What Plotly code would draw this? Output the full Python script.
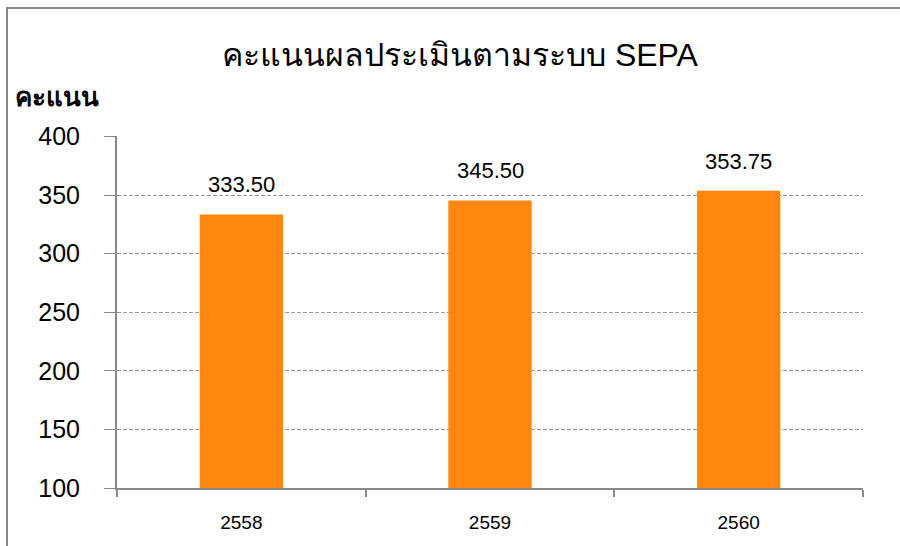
import plotly.graph_objects as go

categories = ["2558", "2559", "2560"]
scores = [333.50, 345.50, 353.75]
y_ticks = [100, 150, 200, 250, 300, 350, 400]

W, H = 900, 546
L, R, T, B = 117, 37, 136, 58
pw, ph = W - L - R, H - T - B

def px_x(p):
    return (p - L) / pw

def px_y(p):
    return (H - B - p) / ph

xpos = list(range(len(categories)))
FONT = "Liberation Sans, Arial"

fig = go.Figure()
fig.add_trace(go.Bar(
    x=xpos, y=scores, width=0.335,
    marker=dict(color="#FF870F", line=dict(width=0)),
    hoverinfo="skip",
))

for xi, v in zip(xpos, scores):
    fig.add_annotation(x=xi, y=v, text=f"{v:.2f}", showarrow=False,
                       yanchor="bottom", yshift=15,
                       font=dict(family=FONT, size=22, color="#000"))

fig.add_annotation(xref="paper", yref="paper", x=px_x(460), y=px_y(55),
                   text="คะแนนผลประเมินตามระบบ SEPA", showarrow=False,
                   xanchor="center", yanchor="middle",
                   font=dict(family=FONT, size=32, color="#000"))
fig.add_annotation(xref="paper", yref="paper", x=px_x(13), y=px_y(97),
                   text="<b>คะแนน</b>", showarrow=False,
                   xanchor="left", yanchor="middle",
                   font=dict(family=FONT, size=26, color="#000"))

# outer frame: top and left edges only (as in the reference crop)
fig.add_shape(type="line", xref="paper", yref="paper",
              x0=px_x(6), x1=px_x(905), y0=px_y(8), y1=px_y(8),
              line=dict(color="#888888", width=2), layer="below")
fig.add_shape(type="line", xref="paper", yref="paper",
              x0=px_x(7), x1=px_x(7), y0=px_y(8), y1=px_y(560),
              line=dict(color="#888888", width=2), layer="below")

fig.update_layout(
    width=W, height=H,
    margin=dict(l=L, r=R, t=T, b=B),
    paper_bgcolor="white", plot_bgcolor="white",
    showlegend=False,
    xaxis=dict(range=[-0.5, len(categories) - 0.5],
               tickvals=xpos, ticktext=categories, ticks="",
               ticklabelstandoff=16,
               showline=True, linecolor="#888888", linewidth=2,
               showgrid=False, zeroline=False,
               minor=dict(tick0=-0.5, dtick=1, ticks="outside", ticklen=7,
                          tickcolor="#888888", tickwidth=2, showgrid=False),
               tickfont=dict(family=FONT, size=19, color="#000")),
    yaxis=dict(range=[100, 400.5], tickvals=y_ticks, ticks="outside",
               ticklen=11, tickcolor="#888888", tickwidth=1,
               ticklabelstandoff=19,
               showline=True, linecolor="#888888", linewidth=2,
               showgrid=True, gridcolor="#999999", griddash="4px,2px", gridwidth=1,
               zeroline=False,
               tickfont=dict(family=FONT, size=25, color="#000")),
)

fig.write_html("out.html", config={"displayModeBar": False},
               post_script="document.body.style.margin='0px';")
